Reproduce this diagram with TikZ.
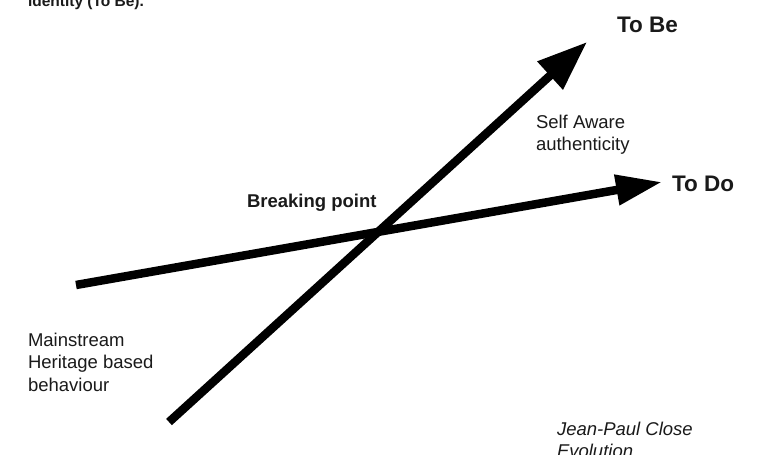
\documentclass[tikz,border=0pt]{standalone}
\usepackage{fontspec}
\setmainfont{Liberation Sans}
\usetikzlibrary{arrows.meta}
\definecolor{ink}{HTML}{1A1A1A}
\tikzset{
  axisline/.style={line width=8.5pt, black, line cap=butt},
  lbl/.style={inner sep=0pt, outer sep=0pt, anchor=base west, align=left, text=ink,
    font=\fontsize{18.5}{22.3}\selectfont},
  bigl/.style={lbl, font=\fontsize{22.5}{26}\selectfont\bfseries},
}
\begin{document}
\begin{tikzpicture}[x=1pt,y=-1pt]
\useasboundingbox (0,0) rectangle (763,455);
\clip (0,0) rectangle (763,455);
\fill[white] (0,0) rectangle (763,455);
% axes
\coordinate (doS) at (76,285);
\coordinate (doE) at (662,182);
\coordinate (beS) at (169,422);
\coordinate (beE) at (587,42);
\draw[axisline, -{Triangle[length=46pt,width=29pt]}] (doS) -- (doE);
\draw[axisline, -{Triangle[length=50pt,width=36pt]}] (beS) -- (beE);
% labels (base anchor of a multi-line node = last line's baseline)
\node[lbl, font=\fontsize{15.5}{18}\selectfont\bfseries] (top) at (28,6) {identity (To Be).};
\node[bigl] (tobe) at (617,32) {To Be};
\node[bigl] (todo) at (672,191) {To Do};
\node[lbl, font=\fontsize{18.5}{22}\selectfont] (self) at (536,150) {Self Aware\\authenticity};
\node[lbl, font=\fontsize{18.5}{22}\selectfont\bfseries] (break) at (247,207) {Breaking point};
\node[lbl, font=\fontsize{18.5}{22.5}\selectfont] (main) at (28,391) {Mainstream\\Heritage based\\behaviour};
\node[lbl, font=\fontsize{18.5}{22}\selectfont\itshape] (jpc) at (557,457) {Jean-Paul Close\\Evolution};
\end{tikzpicture}
\end{document}
